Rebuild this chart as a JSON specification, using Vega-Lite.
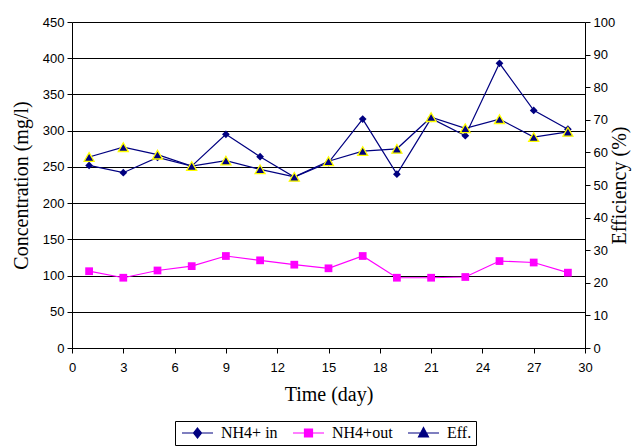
{
  "$schema": "https://vega.github.io/schema/vega-lite/v6.json",
  "width": 513,
  "height": 326,
  "autosize": {"type": "none"},
  "padding": {"left": 72, "top": 22, "right": 55, "bottom": 100},
  "background": "white",
  "config": {
    "view": {"stroke": null},
    "axis": {
      "labelFont": "Liberation Sans",
      "labelFontSize": 13,
      "labelColor": "black",
      "labelFlush": false,
      "titleFont": "Liberation Serif",
      "titleFontSize": 20,
      "titleFontWeight": "normal",
      "titleColor": "black",
      "domainColor": "black",
      "tickColor": "black",
      "tickSize": 5,
      "labelPadding": 3
    },
    "legend": {
      "labelFont": "Liberation Serif",
      "labelFontSize": 16,
      "labelColor": "black"
    }
  },
  "datasets": {
    "conc": [
      {"day": 1, "series": "NH4+ in", "value": 252},
      {"day": 3, "series": "NH4+ in", "value": 242},
      {"day": 5, "series": "NH4+ in", "value": 263},
      {"day": 7, "series": "NH4+ in", "value": 251},
      {"day": 9, "series": "NH4+ in", "value": 295},
      {"day": 11, "series": "NH4+ in", "value": 264},
      {"day": 13, "series": "NH4+ in", "value": 236},
      {"day": 15, "series": "NH4+ in", "value": 256},
      {"day": 17, "series": "NH4+ in", "value": 316},
      {"day": 19, "series": "NH4+ in", "value": 240},
      {"day": 21, "series": "NH4+ in", "value": 317},
      {"day": 23, "series": "NH4+ in", "value": 293},
      {"day": 25, "series": "NH4+ in", "value": 393},
      {"day": 27, "series": "NH4+ in", "value": 328},
      {"day": 29, "series": "NH4+ in", "value": 302},
      {"day": 1, "series": "NH4+out", "value": 106},
      {"day": 3, "series": "NH4+out", "value": 97},
      {"day": 5, "series": "NH4+out", "value": 107},
      {"day": 7, "series": "NH4+out", "value": 113},
      {"day": 9, "series": "NH4+out", "value": 127},
      {"day": 11, "series": "NH4+out", "value": 121},
      {"day": 13, "series": "NH4+out", "value": 115},
      {"day": 15, "series": "NH4+out", "value": 110},
      {"day": 17, "series": "NH4+out", "value": 127},
      {"day": 19, "series": "NH4+out", "value": 97},
      {"day": 21, "series": "NH4+out", "value": 97},
      {"day": 23, "series": "NH4+out", "value": 98},
      {"day": 25, "series": "NH4+out", "value": 120},
      {"day": 27, "series": "NH4+out", "value": 118},
      {"day": 29, "series": "NH4+out", "value": 104}
    ],
    "eff": [
      {"day": 1, "series": "Eff.", "value": 58.6},
      {"day": 3, "series": "Eff.", "value": 61.6},
      {"day": 5, "series": "Eff.", "value": 59.3},
      {"day": 7, "series": "Eff.", "value": 55.8},
      {"day": 9, "series": "Eff.", "value": 57.5},
      {"day": 11, "series": "Eff.", "value": 54.8},
      {"day": 13, "series": "Eff.", "value": 52.5},
      {"day": 15, "series": "Eff.", "value": 57.3},
      {"day": 17, "series": "Eff.", "value": 60.4},
      {"day": 19, "series": "Eff.", "value": 61.1},
      {"day": 21, "series": "Eff.", "value": 70.8},
      {"day": 23, "series": "Eff.", "value": 67.4},
      {"day": 25, "series": "Eff.", "value": 70.2},
      {"day": 27, "series": "Eff.", "value": 64.7},
      {"day": 29, "series": "Eff.", "value": 66.3}
    ]
  },
  "encoding": {
    "x": {
      "field": "day",
      "type": "quantitative",
      "scale": {"domain": [0, 30], "nice": false},
      "axis": {
        "values": [0, 3, 6, 9, 12, 15, 18, 21, 24, 27, 30],
        "grid": false,
        "title": "Time (day)",
        "labelPadding": 8,
        "titlePadding": 10
      }
    }
  },
  "layer": [
    {
      "data": {"name": "conc"},
      "encoding": {
        "y": {
          "field": "value",
          "type": "quantitative",
          "scale": {"domain": [0, 450], "nice": false},
          "axis": {
            "orient": "left",
            "values": [0, 50, 100, 150, 200, 250, 300, 350, 400, 450],
            "grid": true,
            "gridColor": "black",
            "gridOpacity": 1,
            "gridWidth": 1,
            "title": "Concentration (mg/l)",
            "titlePadding": 11
          }
        }
      },
      "layer": [
        {
          "mark": {"type": "line", "strokeWidth": 1.2},
          "encoding": {
            "stroke": {
              "field": "series",
              "type": "nominal",
              "scale": {"domain": ["NH4+ in", "NH4+out"], "range": ["#000080", "#FF00FF"]},
              "legend": null
            }
          }
        },
        {
          "transform": [{"filter": "datum.series === 'NH4+ in'"}],
          "mark": {"type": "point", "shape": "diamond", "filled": true, "color": "#000080", "opacity": 1, "size": 60}
        },
        {
          "transform": [{"filter": "datum.series === 'NH4+out'"}],
          "mark": {"type": "point", "shape": "square", "filled": true, "color": "#FF00FF", "opacity": 1, "size": 60}
        },
        {
          "mark": {"type": "point", "filled": true, "opacity": 0, "size": 10},
          "encoding": {
            "color": {
              "field": "series",
              "type": "nominal",
              "scale": {"domain": ["NH4+ in", "NH4+out", "Eff."], "range": ["#000080", "#FF00FF", "#000080"]},
              "legend": {
                "orient": "none",
                "legendX": 103,
                "legendY": 399,
                "direction": "horizontal",
                "title": null,
                "strokeColor": "black",
                "padding": 4,
                "symbolSize": 100,
                "columnPadding": 12,
                "labelOffset": 26,
                "symbolOpacity": 1,
                "encode": {
                  "symbols": {
                    "update": {
                      "fill": {"signal": "datum.value === 'NH4+out' ? '#FF00FF' : '#000080'"},
                      "stroke": {"signal": "datum.value === 'NH4+out' ? '#FF00FF' : '#000080'"},
                      "strokeWidth": {"value": 1.2},
                      "opacity": {"value": 1}
                    }
                  }
                }
              }
            },
            "shape": {
              "field": "series",
              "type": "nominal",
              "scale": {
                "domain": ["NH4+ in", "NH4+out", "Eff."],
                "range": [
                  "M-1,0H5.2M2.1,-1L2.9,0L2.1,1L1.3,0Z",
                  "M-1,0H5.2M1.3,-0.8H2.9V0.8H1.3Z",
                  "M-1,0H5.2M2.1,-1.1L3.1,0.8L1.1,0.8Z"
                ]
              }
            }
          }
        }
      ]
    },
    {
      "data": {"name": "eff"},
      "encoding": {
        "y": {
          "field": "value",
          "type": "quantitative",
          "scale": {"domain": [0, 100], "nice": false},
          "axis": {
            "orient": "right",
            "values": [0, 10, 20, 30, 40, 50, 60, 70, 80, 90, 100],
            "grid": false,
            "title": "Efficiency (%)",
            "titleAngle": 270,
            "titleBaseline": "top",
            "titlePadding": -5
          }
        }
      },
      "layer": [
        {"mark": {"type": "line", "color": "#000080", "strokeWidth": 1.2}},
        {
          "mark": {
            "type": "point",
            "shape": "triangle-up",
            "filled": true,
            "fill": "#000080",
            "stroke": "#FFFF00",
            "strokeWidth": 1.3,
            "opacity": 1,
            "size": 100
          }
        }
      ]
    }
  ],
  "resolve": {"scale": {"y": "independent"}}
}
